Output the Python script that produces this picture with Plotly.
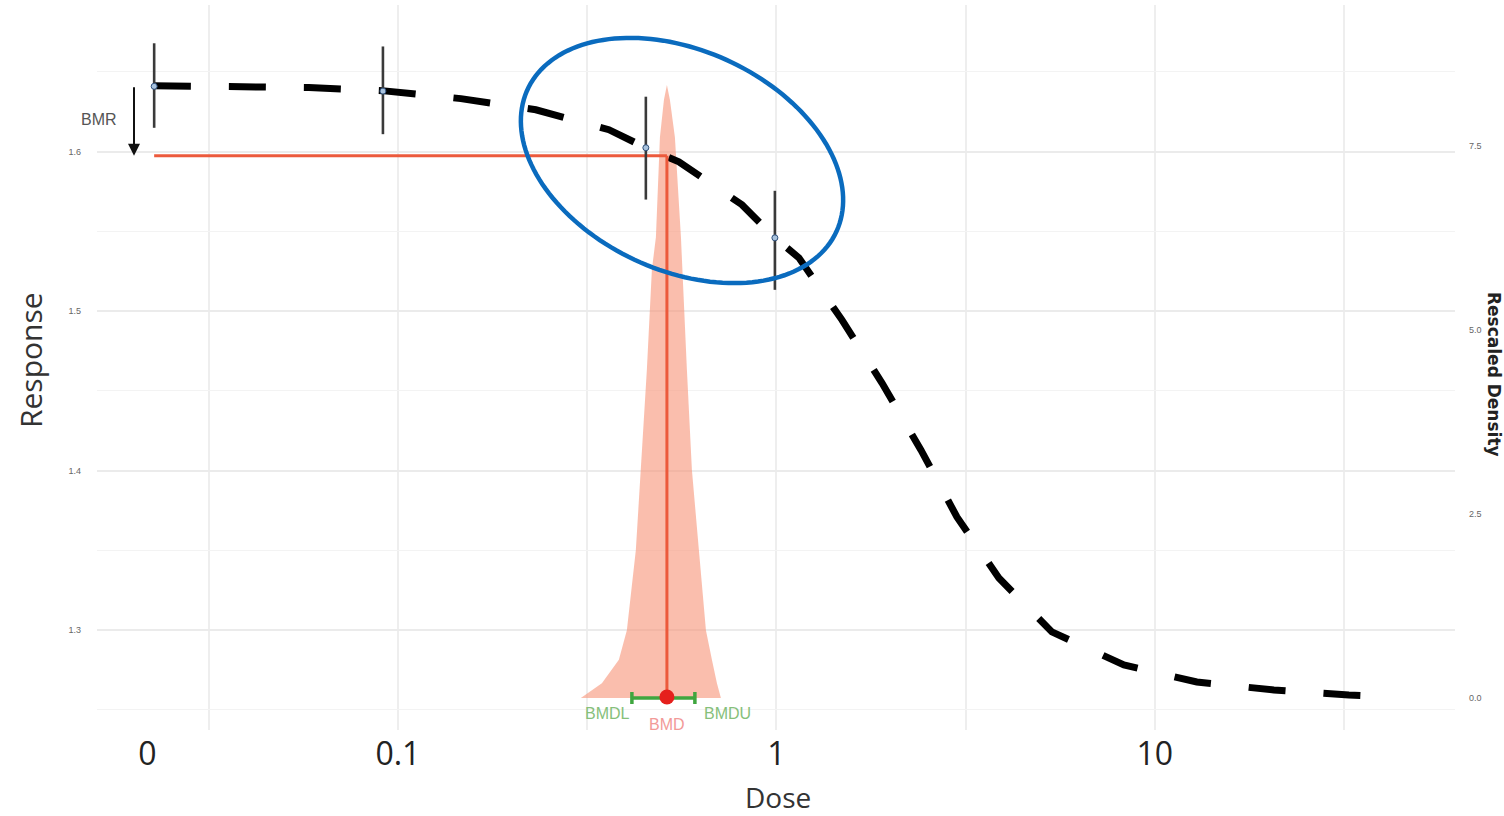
import numpy as np
import plotly.graph_objects as go

# ---------------- data ----------------
ZERO_DOSE = 0.0227          # position used for the "0" dose group on the log axis
ZERO_TICK = 0.0218          # where the "0" tick label sits

dose_obs = [ZERO_DOSE, 0.0913, 0.452, 0.991]
resp_obs = [1.641, 1.638, 1.6025, 1.546]
resp_upper = [1.668, 1.666, 1.6345, 1.5755]
resp_lower = [1.615, 1.611, 1.570, 1.5134]

curve_dose = [0.02266, 0.0371, 0.0582, 0.0907, 0.1467, 0.2315, 0.3609, 0.452, 0.5526,
              0.8109, 0.991, 1.147, 1.490, 1.900, 2.409, 2.999, 3.871, 5.345, 8.283,
              12.91, 20.63, 32.55, 42.03]
curve_resp = [1.6414, 1.6408, 1.6402, 1.6383, 1.6333, 1.6263, 1.6138, 1.6025, 1.5937,
              1.5668, 1.5460, 1.5335, 1.4946, 1.4551, 1.4130, 1.3710, 1.3327, 1.2989,
              1.2782, 1.2675, 1.2625, 1.2593, 1.2581]

dens_dose = [0.3043, 0.3459, 0.3836, 0.4027, 0.4253, 0.4385, 0.4548, 0.4689, 0.4805,
             0.4924, 0.5046, 0.5138, 0.5232, 0.5394, 0.5596, 0.5802, 0.5981, 0.6241,
             0.6514, 0.6756, 0.6965, 0.7136]
dens_val = [0.0, 0.20, 0.52, 0.92, 2.01, 3.10, 4.46, 5.82, 6.26,
            7.62, 8.13, 8.33, 8.13, 7.62, 6.26, 4.46, 3.10, 2.01,
            0.92, 0.52, 0.20, 0.0]

BMR = 1.5975
BMR_LINE_BOTTOM = 1.2581
BMD = 0.5138
BMDL = 0.4152
BMDU = 0.6091

x_tick_vals = [ZERO_TICK, 0.1, 1, 10]
x_tick_text = ["0", "0.1", "1", "10"]
x_grid_vals = [10 ** -1.5, 0.1, 10 ** -0.5, 1, 10 ** 0.5, 10, 10 ** 1.5]
y_tick_vals = [1.3, 1.4, 1.5, 1.6]
y2_tick_vals = [0, 2.5, 5.0, 7.5]
y2_tick_text = ["0.0", "2.5", "5.0", "7.5"]

# ---------------- layout geometry ----------------
W, H = 1504, 816
ML, MR, MT, MB = 97, 49, 5, 86
PW, PH = W - ML - MR, H - MT - MB

RED = "#EC5A3C"
GREEN = "#3FA63F"

# axis ids: "y" = density (right, drawn underneath), "y2" = response (left, on top)
fig = go.Figure()

# density
fig.add_trace(go.Scatter(x=dens_dose, y=dens_val, yaxis="y", mode="lines",
                         line=dict(color="rgba(246,140,110,0.0)", width=0),
                         fill="tozeroy", fillcolor="rgba(247,150,122,0.62)",
                         hoverinfo="skip", showlegend=False))

# BMDL-BMDU interval (density axis, at 0)
fig.add_trace(go.Scatter(
    x=[BMD], y=[0], yaxis="y", mode="markers",
    marker=dict(size=1, color=GREEN),
    error_x=dict(type="data", symmetric=False, array=[BMDU - BMD],
                 arrayminus=[BMD - BMDL], color=GREEN, thickness=3.5, width=6),
    showlegend=False))

# fitted curve
fig.add_trace(go.Scatter(x=curve_dose, y=curve_resp, yaxis="y2", mode="lines",
                         line=dict(color="black", width=7, dash="37px,38px"),
                         showlegend=False))

# BMR lines
fig.add_trace(go.Scatter(x=[ZERO_DOSE, BMD], y=[BMR, BMR], yaxis="y2", mode="lines",
                         line=dict(color=RED, width=3), showlegend=False))
fig.add_trace(go.Scatter(x=[BMD, BMD], y=[BMR, BMR_LINE_BOTTOM], yaxis="y2", mode="lines",
                         line=dict(color=RED, width=3), showlegend=False))

# observed means with error bars
fig.add_trace(go.Scatter(
    x=dose_obs, y=resp_obs, yaxis="y2", mode="markers",
    marker=dict(symbol="circle", size=6, color="#A9C3DE",
                line=dict(color="#2E4F7A", width=1)),
    error_y=dict(type="data", symmetric=False,
                 array=[u - r for u, r in zip(resp_upper, resp_obs)],
                 arrayminus=[r - l for r, l in zip(resp_obs, resp_lower)],
                 color="#3a3a3a", thickness=2.6, width=0),
    showlegend=False))

# BMD point on top
fig.add_trace(go.Scatter(x=[BMD], y=[BMR_LINE_BOTTOM], yaxis="y2", mode="markers",
                         marker=dict(size=15, color="#E5201C"), showlegend=False))

# ---------------- annotations ----------------
lx = np.log10
lab_font = "Liberation Sans, Arial"
ann = []
ann.append(dict(x=lx(BMDL) - 0.065, y=0, xref="x", yref="y", text="BMDL",
                showarrow=False, yshift=-16, xanchor="center", yanchor="middle",
                font=dict(family=lab_font, size=16, color="#86C07A")))
ann.append(dict(x=lx(BMDU) + 0.085, y=0, xref="x", yref="y", text="BMDU",
                showarrow=False, yshift=-16, xanchor="center", yanchor="middle",
                font=dict(family=lab_font, size=16, color="#86C07A")))
ann.append(dict(x=lx(BMD), y=0, xref="x", yref="y", text="BMD",
                showarrow=False, yshift=-27, xanchor="center", yanchor="middle",
                font=dict(family=lab_font, size=16, color="#F29A98")))
# BMR arrow + label
ann.append(dict(x=(134 - ML) / PW, y=BMR, xref="paper", yref="y2", text="",
                showarrow=True, arrowhead=2, arrowsize=1.2, arrowwidth=2,
                arrowcolor="#111", ax=0, ay=-70))
ann.append(dict(x=(99 - ML) / PW, y=(MT + PH - 120) / PH, xref="paper", yref="paper",
                text="BMR", showarrow=False, xanchor="center", yanchor="middle",
                font=dict(family=lab_font, size=16, color="#555")))
# axis titles
ann.append(dict(x=(30 - ML) / PW, y=(MT + PH - 360) / PH, xref="paper", yref="paper",
                text="Response", textangle=-90, showarrow=False,
                xanchor="center", yanchor="middle",
                font=dict(family="Open Sans", size=30, color="#333")))
ann.append(dict(x=(778 - ML) / PW, y=(MT + PH - 797) / PH, xref="paper", yref="paper",
                text="Dose", showarrow=False, xanchor="center", yanchor="middle",
                font=dict(family="Open Sans", size=28, color="#333")))
ann.append(dict(x=(1494 - ML) / PW, y=(MT + PH - 375) / PH, xref="paper", yref="paper",
                text="<b>Rescaled Density</b>", textangle=90, showarrow=False,
                xanchor="center", yanchor="middle",
                font=dict(family="DejaVu Sans", size=17, color="#222")))

# ---------------- highlight ellipse (pixel geometry -> paper) ----------------
ell_cx, ell_cy, ell_a, ell_b, ell_ang = 682, 160.5, 170, 110, np.deg2rad(24.7)
t = np.linspace(0, 2 * np.pi, 160)
ex = ell_cx + ell_a * np.cos(t) * np.cos(ell_ang) - ell_b * np.sin(t) * np.sin(ell_ang)
ey = ell_cy + ell_a * np.cos(t) * np.sin(ell_ang) + ell_b * np.sin(t) * np.cos(ell_ang)
px = (ex - ML) / PW
py = (MT + PH - ey) / PH
path = "M " + " L ".join(f"{a:.5f},{b:.5f}" for a, b in zip(px, py)) + " Z"
shapes = [dict(type="path", path=path, xref="paper", yref="paper",
               line=dict(color="#0A6BBE", width=4.5), layer="above")]

fig.update_layout(
    width=W, height=H,
    margin=dict(l=ML, r=MR, t=MT, b=MB),
    paper_bgcolor="white", plot_bgcolor="white",
    showlegend=False,
    annotations=ann, shapes=shapes,
    xaxis=dict(type="log", range=[-1.795, 1.793],
               tickmode="array", tickvals=x_tick_vals, ticktext=x_tick_text,
               showgrid=False, zeroline=False, showline=False, ticks="",
               tickfont=dict(family="Open Sans", size=32, color="#222"),
               ticklabelstandoff=2,
               minor=dict(tickmode="array", tickvals=x_grid_vals, showgrid=True,
                          gridcolor="#EEEEEE", gridwidth=1.5, ticks="")),
    yaxis=dict(range=[-0.435, 9.416], side="right",
               tickmode="array", tickvals=y2_tick_vals, ticktext=y2_tick_text,
               showgrid=False, zeroline=False, showline=False, ticks="",
               tickfont=dict(family=lab_font, size=9, color="#666"),
               ticklabelstandoff=13),
    yaxis2=dict(range=[1.2374, 1.692], overlaying="y", side="left",
                tickmode="array", tickvals=y_tick_vals,
                showgrid=True, gridcolor="#EBEBEB", gridwidth=1.5,
                zeroline=False, showline=False, ticks="",
                tickfont=dict(family=lab_font, size=9, color="#666"),
                ticklabelstandoff=15,
                minor=dict(dtick=0.05, tick0=1.25, showgrid=True,
                           gridcolor="#F3F3F3", gridwidth=1, ticks="")),
)

fig.write_html("out.html",
               config={"displayModeBar": False},
               post_script="document.body.style.margin='0px';"
                           "document.body.style.padding='0px';"
                           "document.body.style.overflow='hidden';")
